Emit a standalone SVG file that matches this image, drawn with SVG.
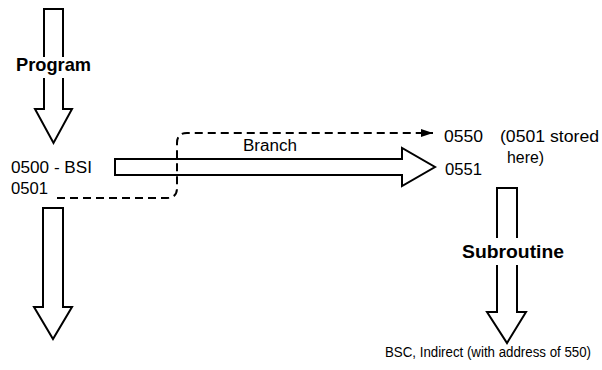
<svg xmlns="http://www.w3.org/2000/svg" width="602" height="370" viewBox="0 0 602 370">
<style>
.s{fill:none;stroke:#000;stroke-width:2;stroke-linejoin:miter}
.t{font-family:"Liberation Sans",Arial,sans-serif;font-size:16px;fill:#000}
.sm{font-family:"Liberation Sans",Arial,sans-serif;font-size:14px;fill:#000}
.b{font-family:"Liberation Sans",Arial,sans-serif;font-size:19px;font-weight:bold;fill:#000}
.d{fill:none;stroke:#000;stroke-width:2;stroke-dasharray:8 5}
</style>
<defs>
<marker id="ah" viewBox="0 0 12 8" refX="12" refY="4" markerWidth="12" markerHeight="8" markerUnits="userSpaceOnUse" orient="auto">
<path d="M0,0 L12,4 L0,8 Z" fill="#000"/>
</marker>
</defs>
<rect width="602" height="370" fill="#fff"/>
<g id="program">
<path class="s" d="M44,57 V9 H63 V57"/>
<path class="s" d="M44,78 V109 H35 L53.5,143 L72,109 H63 V78"/>
<text class="b" x="53.5" y="71" text-anchor="middle" textLength="75" lengthAdjust="spacingAndGlyphs">Program</text>
</g>
<g id="bsi">
<text class="t" x="11" y="173" textLength="81" lengthAdjust="spacingAndGlyphs">0500 - BSI</text>
<text class="t" x="11" y="194" textLength="37" lengthAdjust="spacingAndGlyphs">0501</text>
</g>
<g id="continue">
<path class="s" d="M43,307 V208 H63 V307 H72 L53,339 L34,307 Z"/>
</g>
<g id="targets">
<text class="t" x="444" y="142" textLength="39" lengthAdjust="spacingAndGlyphs">0550</text>
<text class="t" x="500" y="142" textLength="99" lengthAdjust="spacingAndGlyphs">(0501 stored</text>
<text class="t" x="507" y="163" textLength="37" lengthAdjust="spacingAndGlyphs">here)</text>
<text class="t" x="445" y="175" textLength="37" lengthAdjust="spacingAndGlyphs">0551</text>
</g>
<g id="subroutine">
<path class="s" d="M497,238 V188 H517 V238"/>
<path class="s" d="M497,265 V312 H487 L507,343 L526,312 H517 V265"/>
<text class="b" x="513" y="258" text-anchor="middle" textLength="102" lengthAdjust="spacingAndGlyphs">Subroutine</text>
<text class="sm" x="385" y="357" textLength="206" lengthAdjust="spacingAndGlyphs">BSC, Indirect (with address of 550)</text>
</g>
<g id="connectors">
<path class="s" d="M115,159 H402 V148 L435,167 L402,186 V175 H115 Z"/>
<path class="d" d="M57,198 H167 Q177,198 177,188 V143 Q177,133 187,133 H433" marker-end="url(#ah)"/>
<text class="t" x="243" y="151" textLength="54" lengthAdjust="spacingAndGlyphs">Branch</text>
</g>
</svg>
